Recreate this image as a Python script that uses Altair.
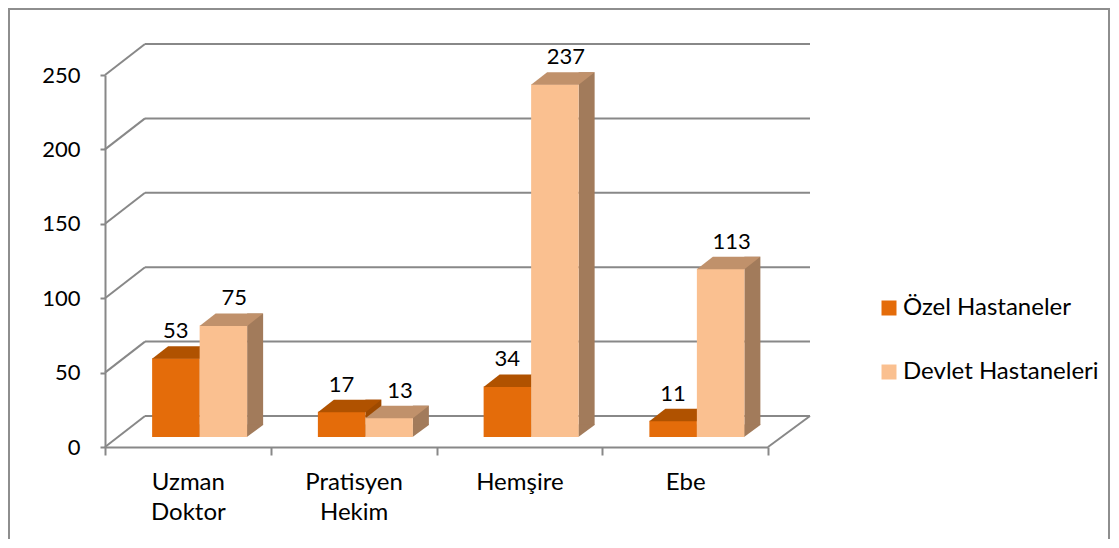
import altair as alt
import pandas as pd

# ---- data ----
categories = ["Uzman Doktor", "Pratisyen Hekim", "Hemşire", "Ebe"]
series_names = ["Özel Hastaneler", "Devlet Hastaneleri"]
ozel_values = [53, 17, 34, 11]
devlet_values = [75, 13, 237, 113]
y_ticks = [0, 50, 100, 150, 200, 250]

rows = []
for c, o, d in zip(categories, ozel_values, devlet_values):
    rows.append({"category": c, "series": series_names[0], "value": o})
    rows.append({"category": c, "series": series_names[1], "value": d})
df = pd.DataFrame(rows)
grid_df = pd.DataFrame({"v": y_ticks})
one_df = pd.DataFrame({"k": [0]})

# ---- style ----
FONT = "Lato"
FS = 22
FS_TXT = 24
GRID = "#888888"
ORANGE, ORANGE_TOP, ORANGE_SIDE = "#E46C0A", "#B05200", "#9E4A00"
PEACH, PEACH_TOP, PEACH_SIDE = "#FAC090", "#C0916B", "#A27B5B"

W, H = 663, 372
WALL_DX, WALL_DY = 40, 31
BAR_W = 47.5
HW = BAR_W / 2
LIFT = 10
DDX, DDY = 16, 12

x_scale = alt.Scale(domain=categories, paddingInner=0, paddingOuter=0)
y_scale = alt.Scale(domain=[0, 250], nice=False, zero=True)
color_scale = alt.Scale(domain=series_names, range=[ORANGE, PEACH])

x_axis = alt.Axis(
    title=None, labelAngle=0, labelExpr="split(datum.label, ' ')",
    tickBand="extent", tickSize=8, tickWidth=2, tickColor=GRID,
    domainColor=GRID, domainWidth=2, labelFont=FONT, labelFontSize=FS_TXT,
    labelColor="black", labelPadding=15, labelLineHeight=30,
    labelBaseline="top", grid=False,
)
y_axis = alt.Axis(
    title=None, values=y_ticks, grid=False, tickSize=5, tickWidth=2,
    tickColor=GRID, domainColor=GRID, domainWidth=2, labelFont=FONT,
    labelFontSize=FS, labelPadding=20, labelColor="black",
)

legend = alt.Legend(
    title=None, orient="none", legendX=772, legendY=221, direction="vertical",
    symbolType="square", symbolSize=225, symbolStrokeWidth=0,
    labelFont=FONT, labelFontSize=FS_TXT, labelColor="black", labelOffset=2,
    labelLimit=0, rowPadding=40, padding=0,
)

XE = alt.X("category:N", scale=x_scale, sort=categories, axis=x_axis)
YE = alt.Y("value:Q", scale=y_scale, axis=y_axis, stack=None)
Y0 = alt.Y(datum=0, scale=y_scale, axis=y_axis)
YV = alt.Y("v:Q", scale=y_scale, axis=y_axis)

# ---- walls / floor ----
back_grid = alt.Chart(grid_df).mark_rule(
    color=GRID, strokeWidth=2, yOffset=-WALL_DY, y2Offset=-WALL_DY
).encode(
    x=alt.value(WALL_DX), x2=alt.value(W + WALL_DX + 2), y=YV, y2="v:Q",
)
left_diag = alt.Chart(grid_df).mark_rule(
    color=GRID, strokeWidth=2, y2Offset=-WALL_DY
).encode(
    x=alt.value(0), x2=alt.value(WALL_DX), y=YV, y2="v:Q",
)
floor_right = alt.Chart(one_df).mark_rule(
    color=GRID, strokeWidth=2, y2Offset=-WALL_DY
).encode(
    x=alt.value(W), x2=alt.value(W + WALL_DX + 2), y=Y0, y2=alt.datum(0),
)

# frame
FRAME = "#8E8E8E"
frame = [
    alt.Chart(one_df).mark_rule(color=FRAME, strokeWidth=2).encode(
        x=alt.value(-96), y=alt.value(-67), y2=alt.value(H + 92)),
    alt.Chart(one_df).mark_rule(color=FRAME, strokeWidth=2).encode(
        x=alt.value(-97), x2=alt.value(W + 341), y=alt.value(-66)),
    alt.Chart(one_df).mark_rule(color=FRAME, strokeWidth=2).encode(
        x=alt.value(W + 341), y=alt.value(-67), y2=alt.value(H + 92)),
]

top_path = f"M {-HW} 0.5 L {HW} 0.5 L {HW + DDX} {-DDY} L {-HW + DDX} {-DDY} Z"
tri_path = f"M {HW - 0.3} {-DDY - 0.5} L {HW - 0.3} 0 L {HW + DDX} {-DDY} L {HW + DDX} {-DDY - 0.5} Z"


def bar_layers(name, off, top, side):
    d = alt.Chart(df).transform_filter(alt.datum.series == name)
    side_rect = d.mark_bar(
        color=side, width=DDX, xOffset=off + HW + DDX / 2,
        yOffset=-(LIFT + DDY), y2Offset=-(LIFT + DDY)
    ).encode(x=XE, y=YE, y2=alt.datum(0))
    side_tri = d.mark_point(
        shape=tri_path, size=4, filled=True, opacity=1, strokeWidth=0,
        color=side, xOffset=off, yOffset=-LIFT
    ).encode(x=XE, y=Y0)
    front_bar = d.mark_bar(
        width=BAR_W, xOffset=off, yOffset=-LIFT, y2Offset=-LIFT
    ).encode(
        x=XE, y=YE, y2=alt.datum(0),
        color=alt.Color("series:N", scale=color_scale, legend=legend),
    )
    top_face = d.mark_point(
        shape=top_path, size=4, filled=True, opacity=1, strokeWidth=0,
        color=top, xOffset=off, yOffset=-LIFT
    ).encode(x=XE, y=YE)
    return [side_rect, side_tri, front_bar, top_face]


def label_layer(name, off):
    d = alt.Chart(df).transform_filter(alt.datum.series == name)
    return d.mark_text(
        font=FONT, fontSize=FS, color="black", baseline="alphabetic",
        align="center", xOffset=off, yOffset=-30
    ).encode(x=XE, y=YE, text="value:Q")


layers = frame + [back_grid, left_diag, floor_right]
layers += bar_layers(series_names[0], -12, ORANGE_TOP, ORANGE_SIDE)
layers += bar_layers(series_names[1], 35.5, PEACH_TOP, PEACH_SIDE)
layers += [label_layer(series_names[0], -12), label_layer(series_names[1], 35.5 + 11)]

chart = alt.layer(*layers).properties(
    width=W, height=H,
    background="white",
    autosize=alt.AutoSizeParams(type="none"),
    padding={"left": 97, "top": 67, "right": 343, "bottom": 92},
).configure_view(strokeWidth=0)

chart.save("out.html", embed_options={"renderer": "svg", "actions": False})
